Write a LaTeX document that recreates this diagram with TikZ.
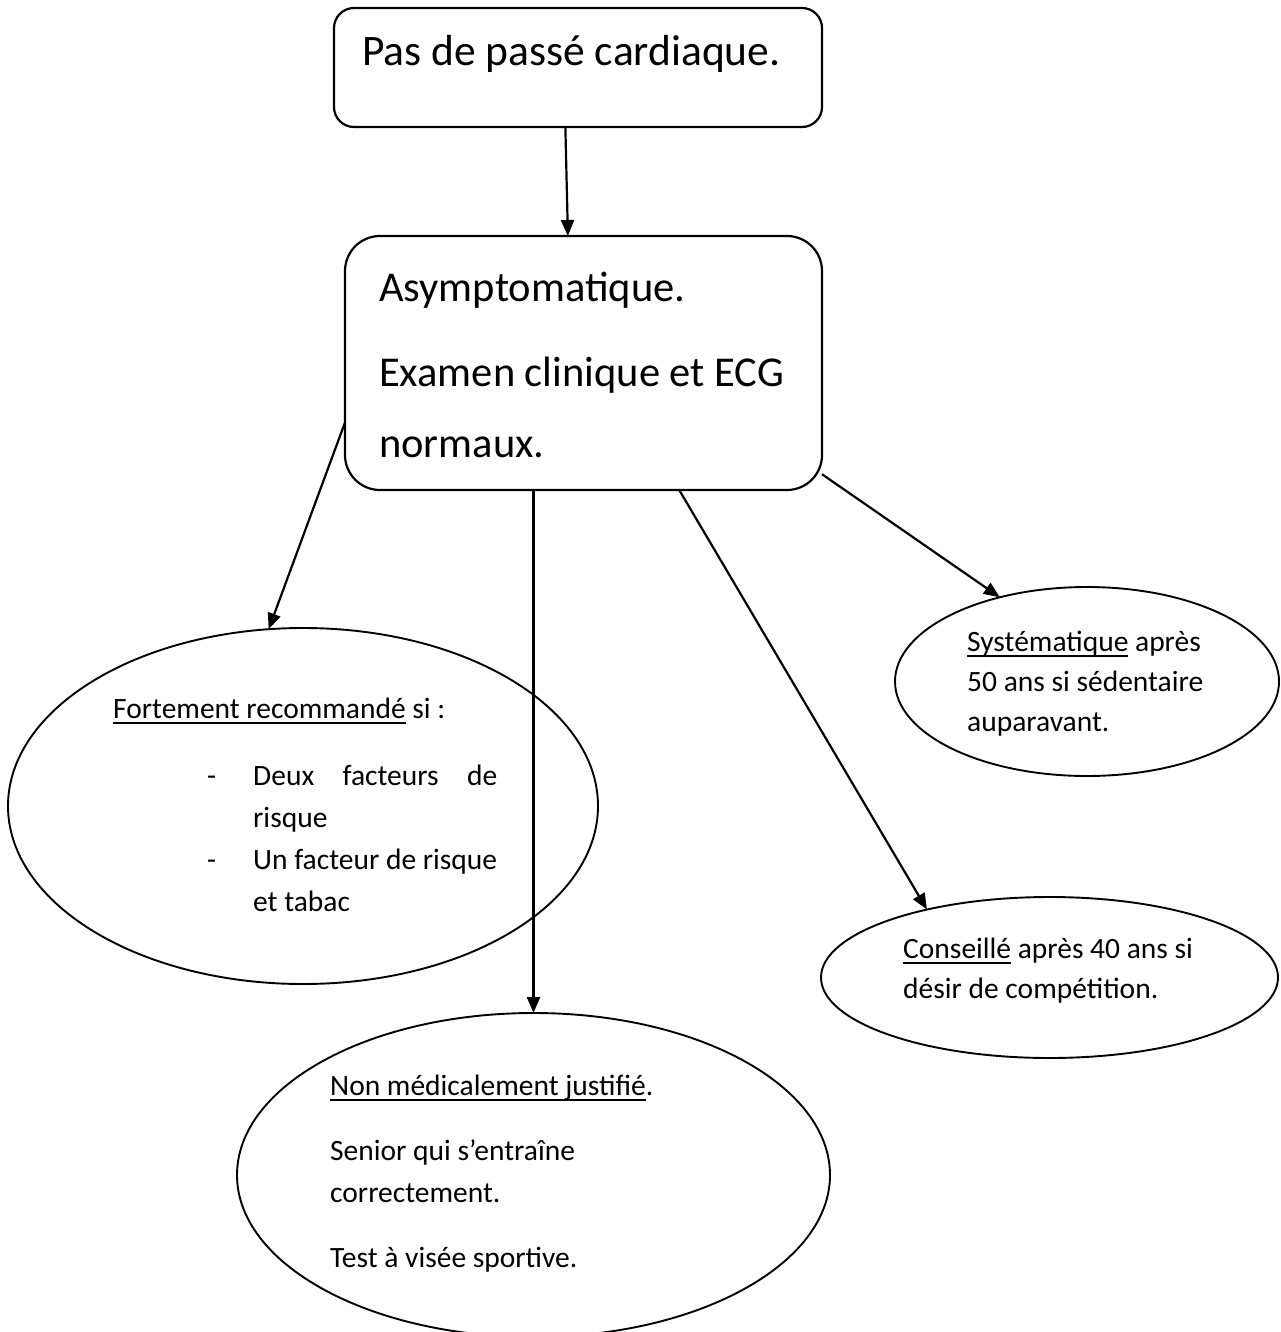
\documentclass[tikz,border=0pt]{standalone}
\usepackage{fontspec}
\setmainfont{Carlito}
\usetikzlibrary{arrows.meta}
\usetikzlibrary{shapes.geometric}

\newcommand{\souligne}[1]{\setbox0\hbox{#1}\rlap{\rule[-6pt]{\wd0}{1.8pt}}\box0\relax}

\begin{document}
\begin{tikzpicture}[x=1pt, y=-1pt,
  boite/.style={draw, line width=2.2pt, rounded corners=#1, inner sep=0, outer sep=0},
  bulle/.style={draw, ellipse, line width=1.9pt, inner sep=0, outer sep=0},
  grand/.style={anchor=base west, inner sep=0, font=\fontsize{42.5}{51}\selectfont},
  petit/.style={anchor=base west, inner sep=0, font=\fontsize{29.5}{36}\selectfont},
  fleche/.style={line width=2.2pt, -{Triangle[length=16pt,width=13pt]}}]
\useasboundingbox (0,0) rectangle (1280,1332);

% cadres
\node[boite=20pt, minimum width=488pt, minimum height=119pt] (passe) at (578,67.5) {};
\node[boite=35pt, minimum width=477pt, minimum height=254pt] (asym) at (583.5,363) {};

% bulles
\node[bulle, minimum width=590pt, minimum height=356pt] (fort) at (303,806) {};
\node[bulle, minimum width=384pt, minimum height=189pt] (syst) at (1087,681.5) {};
\node[bulle, minimum width=457pt, minimum height=161pt] (conseil) at (1049.5,977.5) {};
\node[bulle, minimum width=593pt, minimum height=324pt] (nonmed) at (533.5,1175) {};

% fleches
\draw[fleche] (passe.-102.3) -- (asym.97.3);
\draw[fleche] (asym.194.6) -- (fort.101);
\draw[fleche] (asym.south -| nonmed.north) -- (nonmed.north);
\draw[fleche] (asym.-53.2) -- (conseil.151);
\draw[fleche] (asym.-25.4) -- (syst.136.8);

% textes
\node[grand, font=\fontsize{43.5}{51}\selectfont] (t-passe) at (362,66) {Pas de passé cardiaque.};
\foreach \y/\ligne [count=\i] in {301/Asymptomatique., 386/Examen clinique et ECG, 457/normaux.}
  \node[grand] (t-asym-\i) at (379,\y) {\ligne};

\node[petit] (t-fort) at (113,718) {\souligne{Fortement recommandé} si :};
\foreach \y in {785,869}
  \node[petit] (tiret-\y) at (207,\y) {-};
\node[petit] (t-fort-1) at (253,785) {\hbox to 244pt{Deux\hfill facteurs\hfill de}};
\foreach \y/\ligne [count=\i from 2] in {827/risque, 869/Un facteur de risque, 911/et tabac}
  \node[petit] (t-fort-\i) at (253,\y) {\ligne};

\foreach \y/\ligne [count=\i] in {651/{\souligne{Systématique} après}, 691/50 ans si sédentaire, 731/auparavant.}
  \node[petit] (t-syst-\i) at (967,\y) {\ligne};

\foreach \y/\ligne [count=\i] in {958/{\souligne{Conseillé} après 40 ans si}, 998/désir de compétition.}
  \node[petit] (t-conseil-\i) at (903,\y) {\ligne};

\foreach \y/\ligne [count=\i] in {1095/{\souligne{Non médicalement justifié}.}, 1160/Senior qui s’entraîne, 1202/correctement., 1267/Test à visée sportive.}
  \node[petit] (t-nonmed-\i) at (330,\y) {\ligne};
\end{tikzpicture}
\end{document}
